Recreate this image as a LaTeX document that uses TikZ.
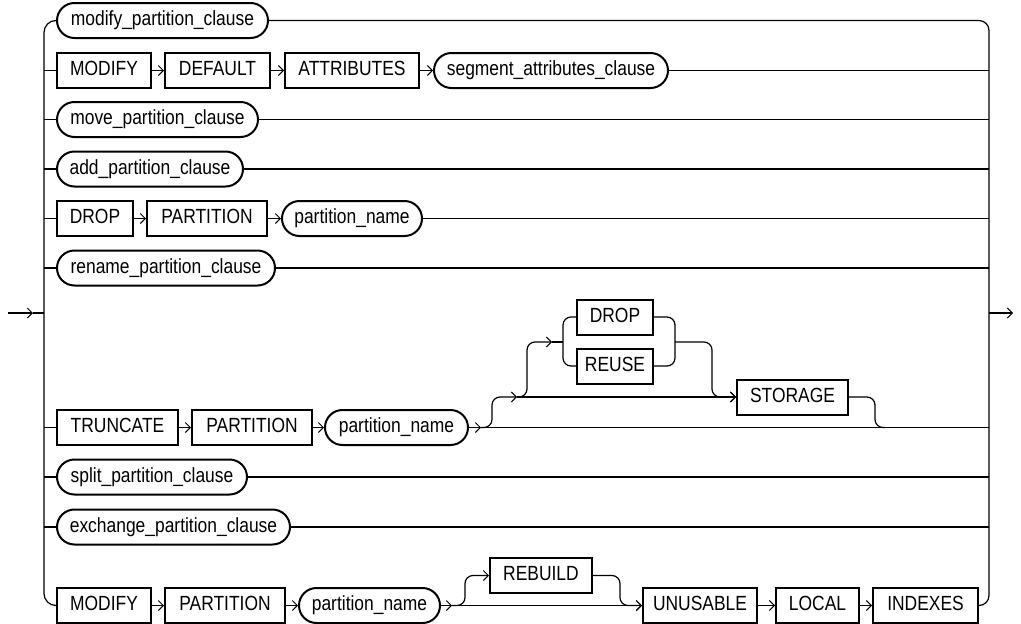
\documentclass[tikz,border=0pt]{standalone}
\usepackage{fontspec}
\setmainfont{Liberation Sans}[FakeStretch=0.85]
\usetikzlibrary{arrows.meta}
\begin{document}
\begin{tikzpicture}[x=1pt,y=-1pt,
  base/.style={draw=black, line width=2pt, minimum height=35pt, inner sep=0pt,
    text height=14.5pt, text depth=4pt, font=\fontsize{20.5}{20.5}\selectfont},
  kw/.style={base, rectangle},
  nt/.style={base, rounded corners=17.5pt},
  conn/.style={line width=1.2pt},
  arr/.style={conn, -{Straight Barb[length=5pt,width=10pt,line width=1pt]}},
]
\useasboundingbox (0,0) rectangle (1021,624);

% bus coordinates
\coordinate (lb) at (44,313);
\coordinate (rb) at (989,313);
\coordinate (in) at (8,313);
\coordinate (inm) at (33,313);
\coordinate (out) at (1013,313);

% row 1
\node[nt, minimum width=211pt] (r1) at (162.5,20.5) {modify\_partition\_clause};
% row 2
\node[kw, minimum width=94pt]  (m2) at (104,70.5) {MODIFY};
\node[kw, minimum width=105pt] (d2) at (217.5,70.5) {DEFAULT};
\node[kw, minimum width=134pt] (a2) at (352,70.5) {ATTRIBUTES};
\node[nt, minimum width=234pt] (s2) at (551,70.5) {segment\_attributes\_clause};
% row 3
\node[nt, minimum width=201pt] (mv) at (157.5,119.5) {move\_partition\_clause};
% row 4
\node[nt, minimum width=186pt] (ad) at (150,169) {add\_partition\_clause};
% row 5
\node[kw, minimum width=76pt]  (dr5) at (95,218.5) {DROP};
\node[kw, minimum width=120pt] (p5) at (207,218.5) {PARTITION};
\node[nt, minimum width=140pt] (n5) at (352,218.5) {partition\_name};
% row 6
\node[nt, minimum width=218pt] (rn) at (166,268) {rename\_partition\_clause};
% row 7
\node[kw, minimum width=121pt] (tr) at (117.5,427.5) {TRUNCATE};
\node[kw, minimum width=120pt] (p7) at (252,427.5) {PARTITION};
\node[nt, minimum width=143pt] (n7) at (396.5,427.5) {partition\_name};
\node[kw, minimum width=76pt]  (drop) at (615,317) {DROP};
\node[kw, minimum width=76pt]  (reuse) at (615,366) {REUSE};
\node[kw, minimum width=111pt] (stor) at (792.5,397) {STORAGE};
% row 8
\node[nt, minimum width=190pt] (sp) at (152,477) {split\_partition\_clause};
% row 9
\node[nt, minimum width=233pt] (ex) at (173.5,527) {exchange\_partition\_clause};
% row 10
\node[kw, minimum width=94pt]  (m10) at (104,605.5) {MODIFY};
\node[kw, minimum width=120pt] (p10) at (225,605.5) {PARTITION};
\node[nt, minimum width=141pt] (n10) at (369.5,605.5) {partition\_name};
\node[kw, minimum width=102pt] (rbd) at (541,575.5) {REBUILD};
\node[kw, minimum width=114pt] (un) at (700,605.5) {UNUSABLE};
\node[kw, minimum width=83pt]  (lo) at (817.5,605.5) {LOCAL};
\node[kw, minimum width=105pt] (ix) at (925.5,605.5) {INDEXES};

% entry / exit
\draw[arr] (in) -- (inm);
\draw[conn] (inm) -- (lb);
\draw[arr] (rb) -- (out);

% left and right buses
\draw[conn, rounded corners=12pt] (r1.west) -| (lb) |- (m10.west);
\draw[conn, rounded corners=10pt] (r1.east) -| (rb) |- (ix.east);

% row stubs on the left
\foreach \n in {m2,mv,ad,dr5,rn,tr,sp,ex}
  \draw[conn] (\n.west) -- (\n.west -| lb);

% row ends on the right
\foreach \n in {s2,mv,ad,n5,rn,sp,ex}
  \draw[conn] (\n.east) -- (\n.east -| rb);

% row 2
\draw[arr] (m2.east) -- (d2.west);
\draw[arr] (d2.east) -- (a2.west);
\draw[arr] (a2.east) -- (s2.west);
% row 5
\draw[arr] (dr5.east) -- (p5.west);
\draw[arr] (p5.east) -- (n5.west);
% row 7
\draw[arr] (tr.east) -- (p7.west);
\draw[arr] (p7.east) -- (n7.west);
\coordinate (J1) at (481,427.5);
\coordinate (J2) at (517,397);
\coordinate (J3a) at (552,342);
\coordinate (J3) at (563,342);
\coordinate (K) at (675,342);
\coordinate (J5) at (885,427.5);
\draw[arr] (n7.east) -- (J1);
\draw[conn] (J1) -- (J1 -| rb);
\draw[arr, rounded corners=8pt] (J1) -| (492,397) -- (J2);
\draw[arr] (J2) -- (stor.west);
\draw[arr, rounded corners=8pt] (J2) -| (527,342) -- (J3a);
\draw[conn] (J3a) -- (J3);
\draw[conn, rounded corners=8pt] (drop.west) -| (J3) |- (reuse.west);
\draw[conn, rounded corners=8pt] (drop.east) -| (K) |- (reuse.east);
\draw[arr, rounded corners=8pt] (K) -| (712,397) -- (stor.west);
\draw[conn, rounded corners=8pt] (stor.east) -| (875,427.5) -- (J5);
% row 10
\draw[arr] (m10.east) -- (p10.west);
\draw[arr] (p10.east) -- (n10.west);
\coordinate (J4) at (452,605.5);
\draw[arr] (n10.east) -- (J4);
\draw[arr] (J4) -- (un.west);
\draw[arr, rounded corners=8pt] (J4) -| (465,575.5) -- (rbd.west);
\draw[arr, rounded corners=8pt] (rbd.east) -| (620,605.5) -- (un.west);
\draw[arr] (un.east) -- (lo.west);
\draw[arr] (lo.east) -- (ix.west);
\end{tikzpicture}
\end{document}
